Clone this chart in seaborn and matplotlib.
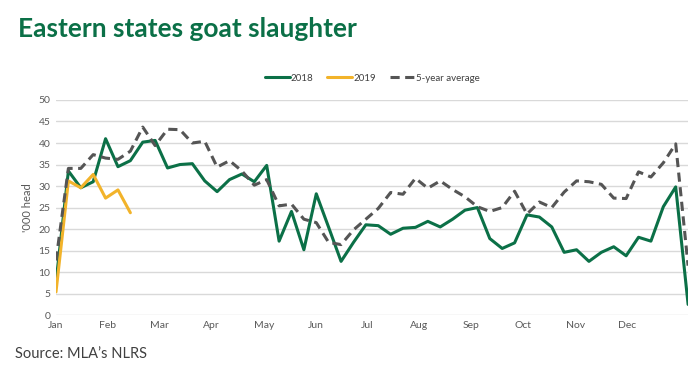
import numpy as np
import pandas as pd
import matplotlib
matplotlib.use('Agg')
import matplotlib.pyplot as plt
import seaborn as sns

TITLE = 'Eastern states goat slaughter'
Y_LABEL = "'000 head"
SOURCE = 'Source: MLA\u2019s NLRS'
MONTHS = ['Jan', 'Feb', 'Mar', 'Apr', 'May', 'Jun', 'Jul', 'Aug', 'Sep', 'Oct', 'Nov', 'Dec']

# weekly values, '000 head
y2018 = [7.7, 33.5, 29.6, 31.0, 41.0, 34.5, 35.9, 40.2, 40.6, 34.2,
         35.0, 35.2, 31.2, 28.7, 31.5, 32.8, 31.0, 34.8, 17.2, 24.1,
         15.2, 28.2, 20.4, 12.5, 16.9, 21.0, 20.8, 18.8, 20.2, 20.4,
         21.8, 20.5, 22.3, 24.4, 25.0, 17.8, 15.5, 16.8, 23.3, 22.8,
         20.5, 14.6, 15.2, 12.5, 14.6, 15.9, 13.8, 18.1, 17.2, 25.2,
         29.8, 2.5]
y2019 = [5.4, 31.2, 29.6, 32.7, 27.2, 29.1, 23.8]
avg5 = [12.7, 34.1, 34.1, 37.3, 36.5, 36.2, 38.1, 43.7, 39.4, 43.2,
        43.1, 40.0, 40.4, 34.4, 35.9, 33.5, 30.2, 31.5, 25.4, 25.8,
        22.3, 21.5, 16.9, 16.4, 19.8, 22.3, 24.8, 28.5, 28.1, 31.8,
        29.5, 31.2, 29.2, 27.5, 25.2, 24.1, 25.0, 28.8, 23.5, 26.3,
        25.0, 28.6, 31.2, 31.0, 30.4, 27.2, 27.1, 33.3, 32.1, 35.4,
        39.8, 11.5]

GREEN = '#0b7047'
YELLOW = '#f2b32a'
GREY = '#555555'

sns.set_theme(style='white')
plt.rcParams['font.family'] = ['Lato', 'DejaVu Sans']

df18 = pd.DataFrame({'week': np.arange(len(y2018)), 'value': y2018})
df19 = pd.DataFrame({'week': np.arange(len(y2019)), 'value': y2019})
dfavg = pd.DataFrame({'week': np.arange(len(avg5)), 'value': avg5})

fig = plt.figure(figsize=(7, 3.73), dpi=100)
ax = fig.add_axes([0.08, 0.155, 0.903, 0.577])

sns.lineplot(data=df18, x='week', y='value', ax=ax, color=GREEN, lw=2.2, label='2018')
sns.lineplot(data=df19, x='week', y='value', ax=ax, color=YELLOW, lw=2.2, label='2019')
sns.lineplot(data=dfavg, x='week', y='value', ax=ax, color=GREY, lw=2.2,
             dashes=False, label='5-year average')
ax.lines[-1].set_linestyle((0, (3, 1.8)))

ax.set_xlim(0, len(y2018) - 1)
ax.set_ylim(0, 50)
ax.set_yticks(np.arange(0, 51, 5))
ax.set_xticks(np.arange(12) * 4.19)
ax.set_xticklabels(MONTHS)
ax.tick_params(axis='both', labelsize=7.5, colors='#595959', length=0, pad=4)
ax.grid(axis='y', color='#d9d9d9', lw=1)
ax.set_axisbelow(True)
for s in ax.spines.values():
  s.set_visible(False)
ax.set_xlabel('')
ax.set_ylabel(Y_LABEL, fontsize=8, color='#595959', labelpad=4)

ax.legend(loc='lower center', bbox_to_anchor=(0.5, 1.04), ncol=3, frameon=False,
          fontsize=7, handlelength=2.6, handletextpad=0.1, columnspacing=1.4,
          labelcolor='#404040')

fig.text(0.025, 0.9, TITLE, fontsize=19, fontweight='bold', color=GREEN)
fig.text(0.022, 0.04, SOURCE, fontsize=10.5, color='#404040')

fig.savefig('out.png', dpi=100)
